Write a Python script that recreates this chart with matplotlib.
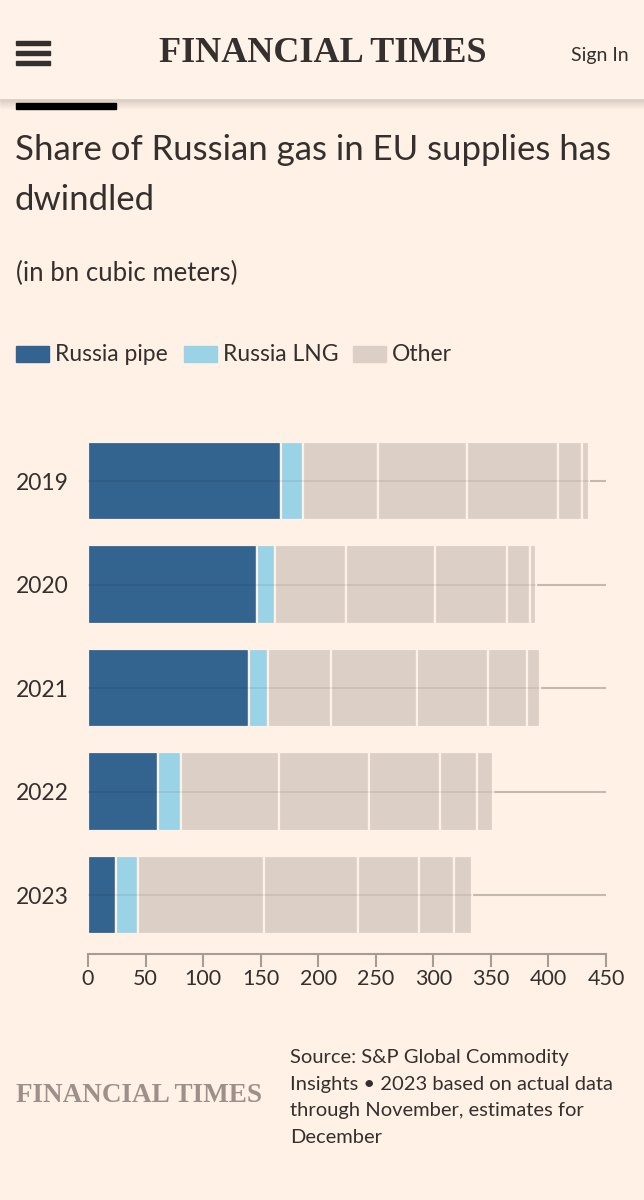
import matplotlib
matplotlib.use("Agg")
import matplotlib.pyplot as plt
from matplotlib.patches import Rectangle
import numpy as np

# data (bn cubic meters)
years = ["2019", "2020", "2021", "2022", "2023"]
russia_pipe = [167.9, 146.6, 139.7, 60.7, 24.5]
russia_lng = [18.5, 15.9, 16.8, 19.8, 19.2]
# "Other" is drawn as five sub-segments per year
other_1 = [65.8, 61.9, 54.2, 85.6, 108.9]
other_2 = [77.2, 76.9, 75.4, 78.4, 81.7]
other_3 = [78.7, 62.6, 61.0, 61.0, 53.5]
other_4 = [21.0, 20.4, 34.7, 32.0, 30.0]
other_5 = [6.0, 5.0, 11.1, 14.7, 16.1]
xticks = [0, 50, 100, 150, 200, 250, 300, 350, 400, 450]

BG = "#fff1e5"
PIPE = "#33648f"
LNG = "#9bd3e6"
OTHER = "#dccfc5"
TXT = "#33302e"
GRID = "#c4b9af"
SANS = ["Lato", "DejaVu Sans"]
SERIF = ["Liberation Serif", "DejaVu Serif"]

W, H = 644, 1200
fig = plt.figure(figsize=(W / 100, H / 100), dpi=100, facecolor=BG)

def fx(px):
    return px / W

def fy(py):
    return 1 - py / H

# header
for i in range(12):
    fig.patches.append(Rectangle((0, fy(98 + i)), 1, 1 / H, transform=fig.transFigure,
                                 color="#000000", alpha=0.05 * (1 - i / 12), zorder=1))
fig.patches.append(Rectangle((0, fy(98)), 1, 98 / H, transform=fig.transFigure,
                             color="#fff3e9", zorder=2))
for yc in (43, 53, 63):
    fig.patches.append(Rectangle((fx(16), fy(yc + 2.2)), fx(34), 4.4 / H,
                                 transform=fig.transFigure, color=TXT, zorder=3))
fig.text(fx(323), fy(53), "FINANCIAL TIMES", family=SERIF, fontsize=26, weight="bold",
         color=TXT, ha="center", va="center", zorder=4)
fig.text(fx(629), fy(55), "Sign In", family=SANS, fontsize=14, color=TXT,
         ha="right", va="center", zorder=4)
fig.patches.append(Rectangle((fx(16), fy(109)), fx(100), 6 / H,
                             transform=fig.transFigure, color="#000000", zorder=3))

# titles
fig.text(fx(15), fy(160), "Share of Russian gas in EU supplies has", family=SANS,
         fontsize=25, color=TXT, ha="left", va="baseline")
fig.text(fx(15), fy(210), "dwindled", family=SANS, fontsize=25, color=TXT,
         ha="left", va="baseline")
fig.text(fx(16), fy(281), "(in bn cubic meters)", family=SANS, fontsize=18.5,
         color=TXT, ha="left", va="baseline")

# legend
for x0, col, lab in ((16, PIPE, "Russia pipe"), (184, LNG, "Russia LNG"), (353, OTHER, "Other")):
    fig.patches.append(Rectangle((fx(x0), fy(362)), fx(33), 16 / H,
                                 transform=fig.transFigure, color=col))
    fig.text(fx(x0 + 39), fy(361), lab, family=SANS, fontsize=16.5, color=TXT,
             ha="left", va="baseline")

# chart
ax = fig.add_axes([fx(88), fy(954), fx(518), (954 - 419) / H])
ax.set_facecolor(BG)
y = np.arange(len(years))
ax.hlines(y, 0, 450, color=GRID, lw=1.5, zorder=0)

segs = [(russia_pipe, PIPE), (russia_lng, LNG), (other_1, OTHER), (other_2, OTHER),
        (other_3, OTHER), (other_4, OTHER), (other_5, OTHER)]
left = np.zeros(len(years))
for vals, col in segs:
    ax.barh(y, vals, left=left, height=0.76, color=col, edgecolor=BG, linewidth=1.6, zorder=2)
    left += np.array(vals)
ax.hlines(y, 0, left, color="#000000", lw=1.2, alpha=0.08, zorder=3)

ax.set_xlim(0, 450)
ax.set_ylim(4.57, -0.6)
ax.set_yticks(y)
ax.set_yticklabels(years, family=SANS, fontsize=16.5, color=TXT)
ax.tick_params(axis="y", length=0, pad=14)
ax.set_xticks(xticks)
ax.set_xticklabels([str(t) for t in xticks], family=SANS, fontsize=15.5, color=TXT)
ax.tick_params(axis="x", length=9, width=1.5, color="#a59c94", pad=2)
for s in ("top", "right", "left"):
    ax.spines[s].set_visible(False)
ax.spines["bottom"].set_color("#a59c94")
ax.spines["bottom"].set_linewidth(1.5)

# footer
fig.text(fx(16), fy(1102), "FINANCIAL TIMES", family=SERIF, fontsize=19.5, weight="bold",
         color="#9b918a", ha="left", va="baseline")
src = ["Source: S&P Global Commodity", "Insights \u2022 2023 based on actual data",
       "through November, estimates for", "December"]
for i, line in enumerate(src):
    fig.text(fx(290), fy(1063 + i * 26.7), line, family=SANS, fontsize=14.5, color=TXT,
             ha="left", va="baseline")

fig.savefig("out.png", dpi=100, facecolor=BG)
